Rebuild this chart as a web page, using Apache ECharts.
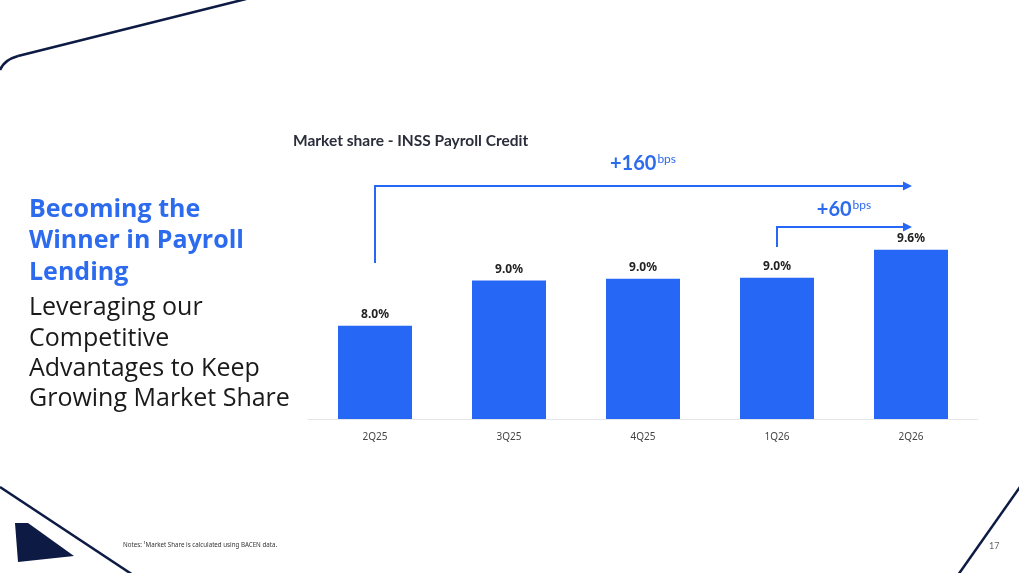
<!DOCTYPE html>
<html>
<head>
<meta charset="utf-8">
<script src="https://cdn.jsdelivr.net/npm/echarts@6/dist/echarts.min.js"></script>
<style>
	html, body { margin: 0; padding: 0; background: #fff; }
	#chart { width: 1019px; height: 573px; }
</style>
</head>
<body>
<div id="chart"></div>
<script>
// 데이터
var quarters = ['2Q25', '3Q25', '4Q25', '1Q26', '2Q26'];
var shareValues = [8.0, 8.97, 9.01, 9.03, 9.63];
var deltaLabels = ['+160', '+60'];
var deltaFrom = [0, 3];
var deltaTo = [4, 4];

var headLines = ['Becoming the', 'Winner in Payroll', 'Lending'];
var subLines = ['Leveraging our', 'Competitive', 'Advantages to Keep', 'Growing Market Share'];

var blue = '#2767f5',
	navy = '#0c1a44';

var chart = echarts.init(document.getElementById('chart'));

var option = {
	animation: false,
	title: {
		text: 'Market share - INSS Payroll Credit',
		left: 293,
		top: 133,
		padding: 0,
		textStyle: { fontFamily: 'Lato', fontSize: 15.5, fontWeight: 'bold', color: '#2a2d3a' }
	},
	grid: { left: 308, right: 41, top: 186, bottom: 154 },
	xAxis: {
		type: 'category',
		data: quarters,
		axisTick: { show: false },
		axisLine: { lineStyle: { color: '#e4e6ea', width: 1 } },
		axisLabel: { margin: 13, fontFamily: 'Noto Sans', fontSize: 10, color: '#444' }
	},
	yAxis: {
		type: 'value',
		min: 6,
		max: 11,
		show: false,
		splitLine: { show: false }
	},
	series: [{
		type: 'bar',
		data: shareValues,
		barWidth: 74,
		itemStyle: { color: blue },
		label: {
			show: true,
			position: 'top',
			distance: 5,
			fontFamily: 'Noto Sans',
			fontSize: 12,
			fontWeight: 'bold',
			color: '#222',
			formatter: function (p) { return p.value.toFixed(1) + '%'; }
		}
	}]
};
chart.setOption(option);

// 화살표 + 텍스트 (좌표는 축에서 계산)
function px(idx, val) {
	return chart.convertToPixel({ seriesIndex: 0 }, [idx, val]);
}
var arrowLevels = [[9.35, 11], [9.69, 10.12]];
var textGap = [22, 17];
var graphics = [];

for (var i = 0; i < deltaLabels.length; i++) {
	var p0 = px(deltaFrom[i], arrowLevels[i][0]),
		p1 = px(deltaFrom[i], arrowLevels[i][1]),
		p2 = px(deltaTo[i], arrowLevels[i][1]);
	graphics.push({
		type: 'polyline',
		shape: { points: [p0, p1, [p2[0] - 6, p2[1]]] },
		style: { stroke: blue, lineWidth: 2, fill: null }
	});
	graphics.push({
		type: 'polygon',
		shape: { points: [[p2[0] - 8, p2[1] - 4.5], [p2[0] + 1, p2[1]], [p2[0] - 8, p2[1] + 4.5]] },
		style: { fill: blue }
	});
	// 텍스트 중앙 위치
	var cx = i === 0 ? px(2, 0)[0] : (px(deltaFrom[i], 0)[0] + px(deltaTo[i], 0)[0]) / 2;
	graphics.push({
		type: 'text',
		x: cx,
		y: p1[1] - textGap[i],
		style: {
			text: '{a|' + deltaLabels[i] + '}{b|bps}',
			align: 'center',
			verticalAlign: 'middle',
			rich: {
				a: { fontFamily: 'Lato', fontSize: 20, fontWeight: 'bold', fill: '#2d6bee', lineHeight: 22 },
				b: { fontFamily: 'Lato', fontSize: 12, fill: '#2d6bee', verticalAlign: 'top', padding: [0, 0, 10, 1] }
			}
		}
	});
}

// 왼쪽 제목
var headY = [210, 241, 273],
	subY = [308, 339, 369, 399];
headLines.forEach(function (t, k) {
	graphics.push({
		type: 'text', x: 29, y: headY[k],
		style: { text: t, fontFamily: 'Open Sans', fontSize: 25, fontWeight: 'bold', fill: '#2d6bee', verticalAlign: 'middle' }
	});
});
subLines.forEach(function (t, k) {
	graphics.push({
		type: 'text', x: 29, y: subY[k],
		style: { text: t, fontFamily: 'Open Sans', fontSize: 25, fill: '#1a1a1a', verticalAlign: 'middle' }
	});
});

// 장식 라인
graphics.push({
	type: 'bezierCurve',
	shape: { x1: 0, y1: 70, cpx1: 4, cpy1: 60, x2: 18, y2: 56 },
	style: { stroke: navy, lineWidth: 2.5, fill: null }
});
graphics.push({
	type: 'line',
	shape: { x1: 18, y1: 56, x2: 246, y2: -1 },
	style: { stroke: navy, lineWidth: 2.5 }
});
graphics.push({
	type: 'line',
	shape: { x1: 0, y1: 487, x2: 133, y2: 575 },
	style: { stroke: navy, lineWidth: 2.5 }
});
graphics.push({
	type: 'polygon',
	shape: { points: [[15, 523], [28, 523], [74, 556], [18, 562]] },
	style: { fill: navy }
});
graphics.push({
	type: 'line',
	shape: { x1: 1020, y1: 487, x2: 958, y2: 575 },
	style: { stroke: navy, lineWidth: 2.5 }
});

// 하단 텍스트
graphics.push({
	type: 'text', x: 123, y: 545,
	style: { text: 'Notes: ¹Market Share is calculated using BACEN data.', fontFamily: 'Noto Sans', fontSize: 6.2, fill: '#333', verticalAlign: 'middle' }
});
graphics.push({
	type: 'text', x: 989, y: 546,
	style: { text: '17', fontFamily: 'Lato', fontSize: 9, fill: '#666', verticalAlign: 'middle' }
});

chart.setOption({ graphic: graphics });
</script>
</body>
</html>
